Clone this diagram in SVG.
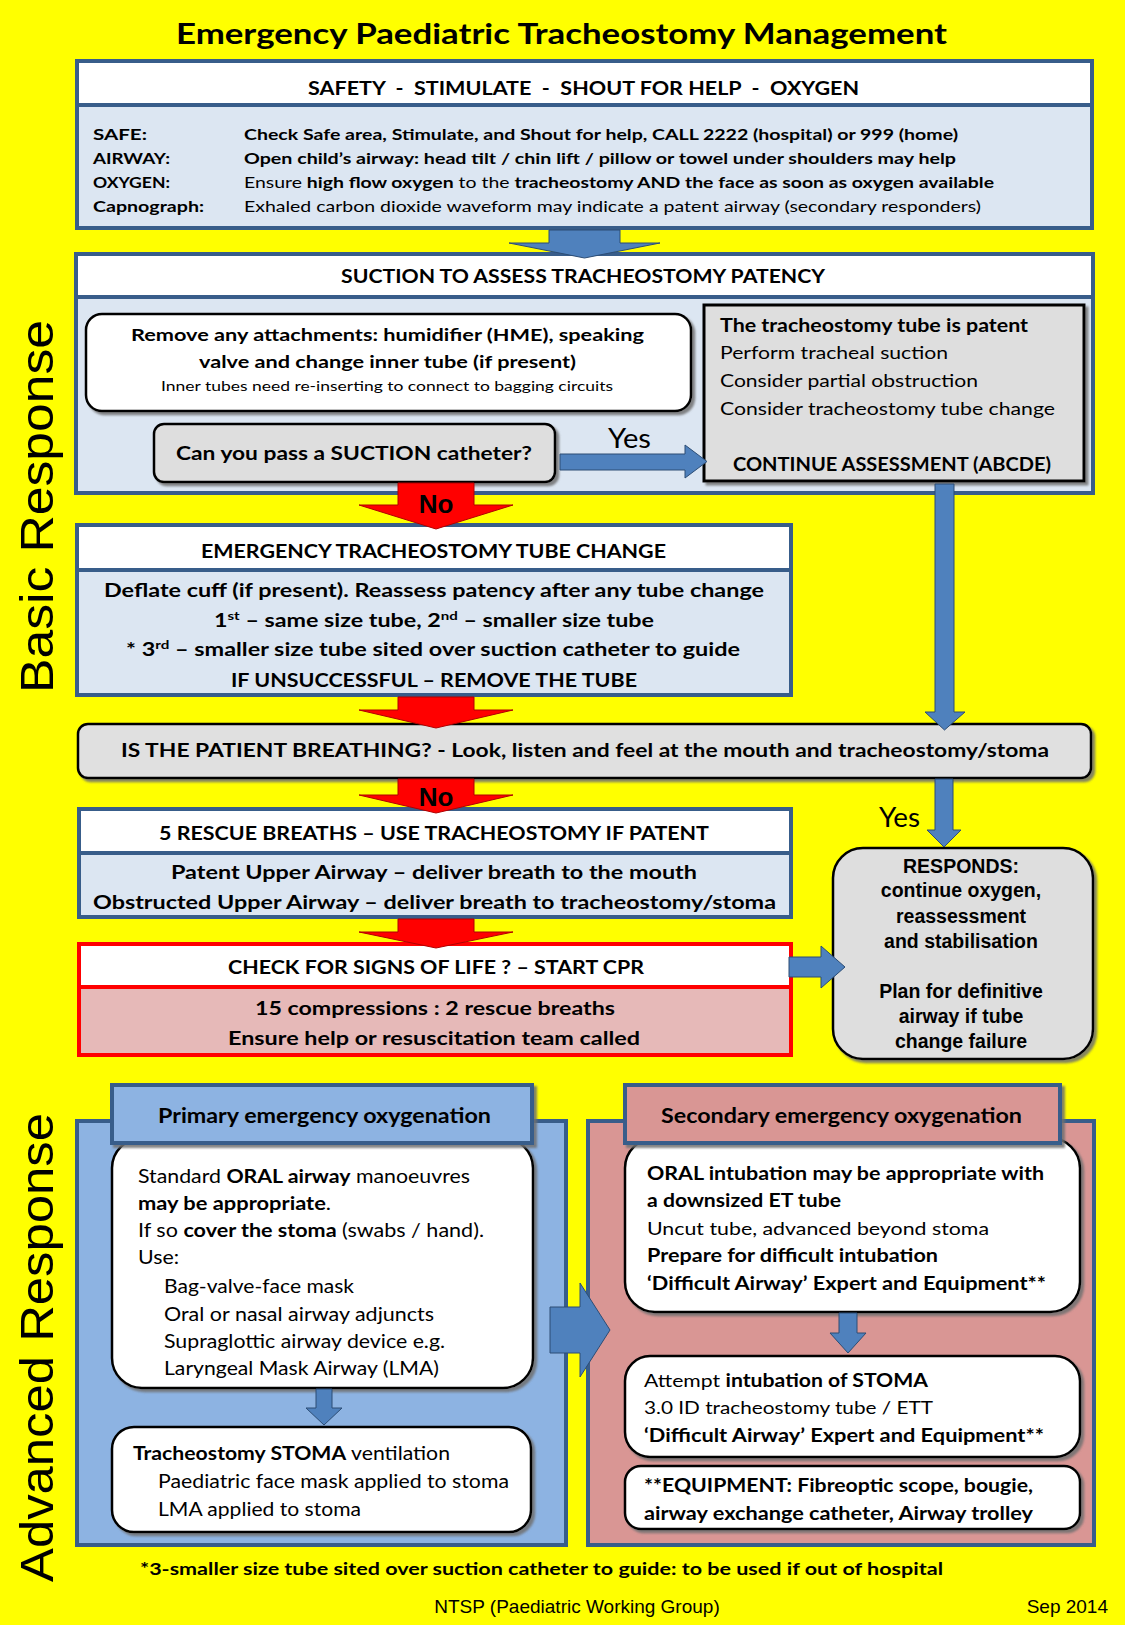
<svg xmlns="http://www.w3.org/2000/svg" width="1125" height="1625" viewBox="0 0 1125 1625">
<defs>
<style>
.c{font-family:Lato,"Liberation Sans",sans-serif;fill:#000}
.a{font-family:"Liberation Sans",Arial,sans-serif;fill:#000}
.b{font-weight:700}
.n{font-weight:400}
.box{stroke:#385d8a;stroke-width:4}
.blk{stroke:#000;stroke-width:2.5}
.ba{fill:#4f81bd;stroke:#2c4d75;stroke-width:1}
.ra{fill:#ff0000;stroke:#b00000;stroke-width:1}
</style>
<filter id="sh" x="-5%" y="-5%" width="115%" height="120%">
<feDropShadow dx="3" dy="3" stdDeviation="1.2" flood-color="#6f6f6f" flood-opacity="0.85"/>
</filter>
</defs>
<rect x="0" y="0" width="1125" height="1625" fill="#ffff00"/>

<text class="c b" x="176" y="44" font-size="28" textLength="771" lengthAdjust="spacingAndGlyphs">Emergency Paediatric Tracheostomy Management</text>
<text class="a" transform="translate(53,506.5) rotate(-90)" text-anchor="middle" font-size="46" textLength="373" lengthAdjust="spacingAndGlyphs">Basic Response</text>
<text class="a" transform="translate(53,1347.5) rotate(-90)" text-anchor="middle" font-size="46" textLength="469" lengthAdjust="spacingAndGlyphs">Advanced Response</text>

<g id="safety">
<rect class="box" x="77" y="61" width="1015" height="167" fill="#dce6f2"/>
<rect x="79" y="63" width="1011" height="42" fill="#fff"/>
<line x1="77" y1="105" x2="1092" y2="105" stroke="#385d8a" stroke-width="4"/>
<text class="c b" x="308" y="95" font-size="19" textLength="551" lengthAdjust="spacingAndGlyphs" xml:space="preserve">SAFETY  -  STIMULATE  -  SHOUT FOR HELP  -  OXYGEN</text>
<text class="c b" x="93" y="140" font-size="16" textLength="54" lengthAdjust="spacingAndGlyphs">SAFE:</text>
<text class="c b" x="244" y="140" font-size="16" textLength="714" lengthAdjust="spacingAndGlyphs">Check Safe area, Stimulate, and Shout for help, CALL 2222 (hospital) or 999 (home)</text>
<text class="c b" x="93" y="164" font-size="16" textLength="77" lengthAdjust="spacingAndGlyphs">AIRWAY:</text>
<text class="c b" x="244" y="164" font-size="16" textLength="712" lengthAdjust="spacingAndGlyphs">Open child’s airway: head tilt / chin lift / pillow or towel under shoulders may help</text>
<text class="c b" x="93" y="188" font-size="16" textLength="77" lengthAdjust="spacingAndGlyphs">OXYGEN:</text>
<text class="c" x="244" y="188" font-size="16" textLength="750" lengthAdjust="spacingAndGlyphs">Ensure <tspan class="b">high flow oxygen</tspan> to the <tspan class="b">tracheostomy AND the face as soon as oxygen available</tspan></text>
<text class="c b" x="93" y="212" font-size="16" textLength="111" lengthAdjust="spacingAndGlyphs">Capnograph:</text>
<text class="c" x="244" y="212" font-size="16" textLength="737" lengthAdjust="spacingAndGlyphs">Exhaled carbon dioxide waveform may indicate a patent airway (secondary responders)</text>
</g>

<g id="suction">
<rect class="box" x="76" y="254" width="1017" height="239" fill="#dce6f2"/>
<rect x="78" y="256" width="1013" height="41" fill="#fff"/>
<line x1="76" y1="297" x2="1093" y2="297" stroke="#385d8a" stroke-width="4"/>
<text class="c b" x="341" y="283" font-size="19" textLength="484" lengthAdjust="spacingAndGlyphs">SUCTION TO ASSESS TRACHEOSTOMY PATENCY</text>
</g>

<g id="remove">
<rect class="blk" x="86" y="314" width="605" height="97" rx="16" fill="#fff" filter="url(#sh)"/>
<text class="c b" x="131" y="341" font-size="17" textLength="513" lengthAdjust="spacingAndGlyphs">Remove any attachments: humidifier (HME), speaking</text>
<text class="c b" x="199" y="368" font-size="17" textLength="377" lengthAdjust="spacingAndGlyphs">valve and change inner tube (if present)</text>
<text class="c" x="161" y="391" font-size="13" textLength="452" lengthAdjust="spacingAndGlyphs">Inner tubes need re-inserting to connect to bagging circuits</text>
</g>

<g id="question">
<rect class="blk" x="154" y="424" width="401" height="58" rx="10" fill="#dedede" filter="url(#sh)"/>
<text class="c b" x="176" y="460" font-size="18" textLength="356" lengthAdjust="spacingAndGlyphs">Can you pass a SUCTION catheter?</text>
</g>

<g id="patent">
<rect x="704" y="305" width="380" height="176" fill="#dedede" stroke="#000" stroke-width="3" filter="url(#sh)"/>
<text class="c b" x="720" y="332" font-size="18" textLength="308" lengthAdjust="spacingAndGlyphs">The tracheostomy tube is patent</text>
<text class="c" x="720" y="359" font-size="18" textLength="228" lengthAdjust="spacingAndGlyphs">Perform tracheal suction</text>
<text class="c" x="720" y="387" font-size="18" textLength="258" lengthAdjust="spacingAndGlyphs">Consider partial obstruction</text>
<text class="c" x="720" y="415" font-size="18" textLength="335" lengthAdjust="spacingAndGlyphs">Consider tracheostomy tube change</text>
<text class="c b" x="733" y="471" font-size="18" textLength="318" lengthAdjust="spacingAndGlyphs">CONTINUE ASSESSMENT (ABCDE)</text>
</g>

<g id="tubechange">
<rect class="box" x="77" y="525" width="714" height="170" fill="#dce6f2"/>
<rect x="79" y="527" width="710" height="43" fill="#fff"/>
<line x1="77" y1="570" x2="791" y2="570" stroke="#385d8a" stroke-width="4"/>
<text class="c b" x="201" y="558" font-size="18.5" textLength="465" lengthAdjust="spacingAndGlyphs">EMERGENCY TRACHEOSTOMY TUBE CHANGE</text>
<text class="c b" x="104" y="597" font-size="18.5" textLength="660" lengthAdjust="spacingAndGlyphs">Deflate cuff (if present). Reassess patency after any tube change</text>
<text class="c b" x="214" y="627" font-size="18.5" textLength="440" lengthAdjust="spacingAndGlyphs">1<tspan font-size="12" baseline-shift="super">st</tspan> – same size tube, 2<tspan font-size="12" baseline-shift="super">nd</tspan> – smaller size tube</text>
<text class="c b" x="126" y="656" font-size="18.5" textLength="614" lengthAdjust="spacingAndGlyphs">* 3<tspan font-size="12" baseline-shift="super">rd</tspan> – smaller size tube sited over suction catheter to guide</text>
<text class="c b" x="231" y="687" font-size="18.5" textLength="406" lengthAdjust="spacingAndGlyphs">IF UNSUCCESSFUL – REMOVE THE TUBE</text>
</g>

<g id="breathing">
<rect class="blk" x="78" y="724" width="1013" height="54" rx="10" fill="#e0e0e0" filter="url(#sh)"/>
<text class="c b" x="121" y="757" font-size="19" textLength="928" lengthAdjust="spacingAndGlyphs">IS THE PATIENT BREATHING? - Look, listen and feel at the mouth and tracheostomy/stoma</text>
</g>

<g id="rescue">
<rect class="box" x="79" y="809" width="712" height="108" fill="#dce6f2"/>
<rect x="81" y="811" width="708" height="42" fill="#fff"/>
<line x1="79" y1="853" x2="791" y2="853" stroke="#385d8a" stroke-width="4"/>
<text class="c b" x="159" y="840" font-size="18.5" textLength="550" lengthAdjust="spacingAndGlyphs">5 RESCUE BREATHS – USE TRACHEOSTOMY IF PATENT</text>
<text class="c b" x="171" y="879" font-size="18.5" textLength="526" lengthAdjust="spacingAndGlyphs">Patent Upper Airway – deliver breath to the mouth</text>
<text class="c b" x="93" y="909" font-size="18.5" textLength="683" lengthAdjust="spacingAndGlyphs">Obstructed Upper Airway – deliver breath to tracheostomy/stoma</text>
</g>

<g id="cpr">
<rect x="79" y="944" width="712" height="111" fill="#e6b9b8" stroke="#ff0000" stroke-width="4"/>
<rect x="81" y="946" width="708" height="41" fill="#fff"/>
<line x1="79" y1="987" x2="791" y2="987" stroke="#ff0000" stroke-width="4"/>
<text class="c b" x="228" y="974" font-size="18.5" textLength="416" lengthAdjust="spacingAndGlyphs">CHECK FOR SIGNS OF LIFE ? – START CPR</text>
<text class="c b" x="255" y="1015" font-size="18.5" textLength="360" lengthAdjust="spacingAndGlyphs">15 compressions : 2 rescue breaths</text>
<text class="c b" x="228" y="1045" font-size="18.5" textLength="412" lengthAdjust="spacingAndGlyphs">Ensure help or resuscitation team called</text>
</g>

<g id="responds">
<rect class="blk" x="833" y="848" width="260" height="211" rx="30" fill="#dedede" filter="url(#sh)"/>
<g class="a b" font-size="19.5" text-anchor="middle">
<text x="961" y="873">RESPONDS:</text>
<text x="961" y="897">continue oxygen,</text>
<text x="961" y="923">reassessment</text>
<text x="961" y="948">and stabilisation</text>
<text x="961" y="998">Plan for definitive</text>
<text x="961" y="1023">airway if tube</text>
<text x="961" y="1048">change failure</text>
</g>
</g>

<g id="primary">
<rect class="box" x="77" y="1121" width="489" height="424" fill="#8db3e2"/>
<rect class="blk" x="112" y="1138" width="421" height="250" rx="30" fill="#fff" filter="url(#sh)"/>
<rect class="box" x="112" y="1085" width="420" height="58" fill="#8db3e2" filter="url(#sh)"/>
<text class="c b" x="158" y="1123" font-size="20" textLength="333" lengthAdjust="spacingAndGlyphs">Primary emergency oxygenation</text>
<text class="c" x="138" y="1183" font-size="18.5" textLength="332" lengthAdjust="spacingAndGlyphs">Standard <tspan class="b">ORAL airway</tspan> manoeuvres</text>
<text class="c" x="138" y="1210" font-size="18.5" textLength="193" lengthAdjust="spacingAndGlyphs"><tspan class="b">may be appropriate</tspan>.</text>
<text class="c" x="138" y="1237" font-size="18.5" textLength="346" lengthAdjust="spacingAndGlyphs">If so <tspan class="b">cover the stoma</tspan> (swabs / hand).</text>
<text class="c" x="138" y="1264" font-size="18.5" textLength="41" lengthAdjust="spacingAndGlyphs">Use:</text>
<text class="c" x="164" y="1293" font-size="18.5" textLength="190" lengthAdjust="spacingAndGlyphs">Bag-valve-face mask</text>
<text class="c" x="164" y="1321" font-size="18.5" textLength="270" lengthAdjust="spacingAndGlyphs">Oral or nasal airway adjuncts</text>
<text class="c" x="164" y="1348" font-size="18.5" textLength="281" lengthAdjust="spacingAndGlyphs">Supraglottic airway device e.g.</text>
<text class="c" x="164" y="1375" font-size="18.5" textLength="275" lengthAdjust="spacingAndGlyphs">Laryngeal Mask Airway (LMA)</text>
</g>

<g id="stoma">
<rect class="blk" x="112" y="1427" width="419" height="105" rx="22" fill="#fff" filter="url(#sh)"/>
<text class="c" x="133" y="1460" font-size="18.5" textLength="317" lengthAdjust="spacingAndGlyphs"><tspan class="b">Tracheostomy STOMA</tspan> ventilation</text>
<text class="c" x="158" y="1488" font-size="18.5" textLength="351" lengthAdjust="spacingAndGlyphs">Paediatric face mask applied to stoma</text>
<text class="c" x="158" y="1516" font-size="18.5" textLength="203" lengthAdjust="spacingAndGlyphs">LMA applied to stoma</text>
</g>

<g id="secondary">
<rect class="box" x="588" y="1121" width="506" height="424" fill="#d99694"/>
<rect class="blk" x="625" y="1138" width="455" height="174" rx="30" fill="#fff" filter="url(#sh)"/>
<rect class="box" x="625" y="1085" width="435" height="58" fill="#d99694" filter="url(#sh)"/>
<text class="c b" x="661" y="1123" font-size="20" textLength="361" lengthAdjust="spacingAndGlyphs">Secondary emergency oxygenation</text>
<text class="c b" x="647" y="1180" font-size="18" textLength="397" lengthAdjust="spacingAndGlyphs">ORAL intubation may be appropriate with</text>
<text class="c b" x="647" y="1207" font-size="18" textLength="194" lengthAdjust="spacingAndGlyphs">a downsized ET tube</text>
<text class="c" x="647" y="1235" font-size="18" textLength="342" lengthAdjust="spacingAndGlyphs">Uncut tube, advanced beyond stoma</text>
<text class="c b" x="647" y="1262" font-size="18" textLength="291" lengthAdjust="spacingAndGlyphs">Prepare for difficult intubation</text>
<text class="c b" x="647" y="1290" font-size="18" textLength="399" lengthAdjust="spacingAndGlyphs">‘Difficult Airway’ Expert and Equipment**</text>
</g>

<g id="stomaintubation">
<rect class="blk" x="625" y="1356" width="455" height="101" rx="25" fill="#fff" filter="url(#sh)"/>
<text class="c" x="644" y="1387" font-size="18" textLength="284" lengthAdjust="spacingAndGlyphs">Attempt <tspan class="b">intubation of STOMA</tspan></text>
<text class="c" x="644" y="1414" font-size="18" textLength="289" lengthAdjust="spacingAndGlyphs">3.0 ID tracheostomy tube / ETT</text>
<text class="c b" x="644" y="1442" font-size="18" textLength="400" lengthAdjust="spacingAndGlyphs">‘Difficult Airway’ Expert and Equipment**</text>
</g>

<g id="equipment">
<rect class="blk" x="625" y="1466" width="455" height="63" rx="16" fill="#fff" filter="url(#sh)"/>
<text class="c b" x="644" y="1492" font-size="18" textLength="389" lengthAdjust="spacingAndGlyphs">**EQUIPMENT: Fibreoptic scope, bougie,</text>
<text class="c b" x="644" y="1520" font-size="18" textLength="389" lengthAdjust="spacingAndGlyphs">airway exchange catheter, Airway trolley</text>
</g>

<g id="connectors">
<polygon class="ba" points="549,230 620,230 620,243 660,243 584.5,258 509,243 549,243"/>
<polygon class="ra" points="398,483 474,483 474,505 513,505 436,529 359,505 398,505"/>
<polygon class="ra" points="398,697 474,697 474,710 513,710 436,728 359,710 398,710"/>
<polygon class="ra" points="398,779 474,779 474,795 513,795 436,813 359,795 398,795"/>
<polygon class="ra" points="398,919 474,919 474,932 513,932 436,948 359,932 398,932"/>
<polygon class="ba" points="560,454 685,454 685,445 707,461.5 685,478 685,470 560,470"/>
<polygon class="ba" points="935,484 954,484 954,712 965,712 944.5,730 925,712 935,712"/>
<polygon class="ba" points="935,779 953,779 953,830 961,830 944,847 927,830 935,830"/>
<polygon class="ba" points="789,957 821,957 821,946 845,967 821,988 821,977 789,977"/>
<polygon class="ba" points="316,1389 332,1389 332,1408 342,1408 324,1425 306,1408 316,1408"/>
<polygon class="ba" points="839,1313 857,1313 857,1333 866,1333 848,1353 830,1333 839,1333"/>
<polygon class="ba" points="550,1307 580,1307 580,1283 610,1330 580,1377 580,1353 550,1353"/>
<text class="a b" x="436" y="513" font-size="26" text-anchor="middle">No</text>
<text class="a b" x="436" y="806" font-size="26" text-anchor="middle">No</text>
<text class="c" x="608" y="448" font-size="26" textLength="43" lengthAdjust="spacingAndGlyphs">Yes</text>
<text class="c" x="879" y="827" font-size="26" textLength="41" lengthAdjust="spacingAndGlyphs">Yes</text>
</g>

<text class="c b" x="140" y="1575" font-size="17.5" textLength="803" lengthAdjust="spacingAndGlyphs">*3-smaller size tube sited over suction catheter to guide: to be used if out of hospital</text>
<text class="a" x="577" y="1613" font-size="19" text-anchor="middle">NTSP (Paediatric Working Group)</text>
<text class="a" x="1108" y="1613" font-size="19" text-anchor="end">Sep 2014</text>
</svg>
